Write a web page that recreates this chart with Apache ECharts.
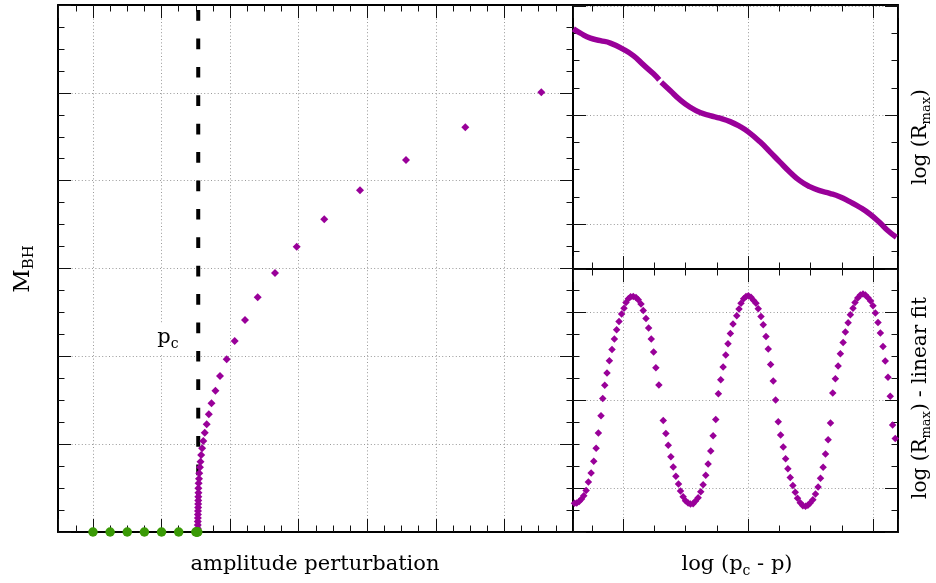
<!DOCTYPE html>
<html><head><meta charset="utf-8">
<script src="https://cdn.jsdelivr.net/npm/echarts@6/dist/echarts.min.js"></script>
<style>html,body{margin:0;padding:0;background:#fff}#c{width:936px;height:583px}</style>
</head><body><div id="c"></div>
<script>
// ---------- data ----------
// left panel: amplitude perturbation vs M_BH
const pcValue = 1.535;
const noBhX = [0, 0.25, 0.5, 0.75, 1.0, 1.25, 1.50, 1.512, 1.522, 1.528];
const noBhM = [0, 0, 0, 0, 0, 0, 0, 0, 0, 0];
const bhX = [6.538, 5.430, 4.565, 3.894, 3.373, 2.971, 2.654, 2.402, 2.217, 2.067,
  1.950, 1.852, 1.786, 1.728, 1.689, 1.658, 1.630, 1.609, 1.592, 1.578,
  1.568, 1.560, 1.550, 1.546, 1.541, 1.537, 1.538, 1.536, 1.535, 1.534,
  1.533, 1.532, 1.531, 1.530, 1.529, 1.528, 1.528, 1.527];
const bhM = [5.006, 4.608, 4.235, 3.890, 3.560, 3.248, 2.949, 2.672, 2.414, 2.175,
  1.966, 1.776, 1.609, 1.465, 1.340, 1.226, 1.129, 1.036, 0.953, 0.877,
  0.800, 0.737, 0.668, 0.607, 0.554, 0.498, 0.447, 0.40, 0.36, 0.32,
  0.28, 0.24, 0.20, 0.16, 0.12, 0.08, 0.04, 0.0];

// right-top: log(pc-p) vs log(Rmax)  (null = small gap in the curve)
const logDpX = [-0.397, -0.341, -0.261, -0.181, -0.101, 0.0, 0.085, 0.164, 0.244, 0.290,
  0.299, 0.306, 0.377, 0.457, 0.537, 0.617, 0.697, 0.777, 0.857, 0.937,
  1.002, 1.094, 1.174, 1.254, 1.334, 1.414, 1.494, 1.574, 1.654, 1.734,
  1.814, 1.894, 1.974, 2.054, 2.120, 2.187];
const logRmax = [1.791, 1.752, 1.706, 1.684, 1.661, 1.606, 1.544, 1.461, 1.379, 1.324,
  null, 1.302, 1.226, 1.140, 1.073, 1.024, 0.996, 0.972, 0.941, 0.895,
  0.847, 0.758, 0.666, 0.572, 0.480, 0.400, 0.345, 0.308, 0.284, 0.253,
  0.207, 0.156, 0.094, 0.015, -0.059, -0.119];

// right-bottom: residual log(Rmax) - linear fit
const residX = [-0.388, -0.370, -0.351, -0.332, -0.314, -0.295, -0.277, -0.255, -0.234, -0.215,
  -0.197, -0.176, -0.162, -0.146, -0.128, -0.109, -0.088, -0.069, -0.051, -0.032,
  -0.011, 0.008, 0.024, 0.043, 0.061, 0.082, 0.104, 0.122, 0.144, 0.162,
  0.184, 0.205, 0.226, 0.245, 0.263, 0.287, 0.322, 0.343, 0.362, 0.383,
  0.402, 0.423, 0.444, 0.460, 0.481, 0.500, 0.521, 0.540, 0.561, 0.580,
  0.601, 0.622, 0.641, 0.662, 0.681, 0.702, 0.721, 0.742, 0.763, 0.782,
  0.801, 0.822, 0.840, 0.859, 0.880, 0.910, 0.928, 0.944, 0.965, 0.984,
  1.003, 1.024, 1.045, 1.064, 1.082, 1.104, 1.122, 1.144, 1.162, 1.181,
  1.202, 1.221, 1.242, 1.261, 1.282, 1.301, 1.319, 1.338, 1.359, 1.378,
  1.396, 1.418, 1.439, 1.460, 1.479, 1.497, 1.519, 1.540, 1.561, 1.580,
  1.601, 1.620, 1.641, 1.660, 1.678, 1.699, 1.721, 1.739, 1.761, 1.779,
  1.801, 1.819, 1.840, 1.856, 1.878, 1.899, 1.920, 1.939, 1.960, 1.981,
  2.000, 2.019, 2.040, 2.059, 2.080, 2.098, 2.120, 2.138, 2.157, 2.178];
const residY = [-0.174, -0.170, -0.152, -0.125, -0.087, -0.027, 0.068, 0.170, 0.303, 0.451,
  0.625, 0.822, 1.019, 1.167, 1.307, 1.447, 1.576, 1.693, 1.799, 1.894,
  1.977, 2.045, 2.110, 2.152, 2.174, 2.178, 2.167, 2.140, 2.091, 2.019,
  1.928, 1.818, 1.693, 1.545, 1.367, 1.170, 0.769, 0.621, 0.485, 0.356,
  0.239, 0.133, 0.045, -0.034, -0.098, -0.144, -0.170, -0.182, -0.178, -0.148,
  -0.110, -0.042, 0.038, 0.144, 0.273, 0.420, 0.595, 0.780, 1.072, 1.231,
  1.375, 1.511, 1.640, 1.758, 1.864, 1.958, 2.034, 2.102, 2.152, 2.178,
  2.186, 2.170, 2.133, 2.102, 2.038, 1.951, 1.856, 1.723, 1.580, 1.405,
  1.216, 1.000, 0.754, 0.602, 0.466, 0.333, 0.220, 0.121, 0.030, -0.049,
  -0.117, -0.167, -0.201, -0.208, -0.197, -0.170, -0.133, -0.068, 0.011, 0.110,
  0.235, 0.386, 0.549, 0.739, 1.080, 1.242, 1.386, 1.527, 1.655, 1.773,
  1.879, 1.970, 2.045, 2.110, 2.159, 2.193, 2.205, 2.193, 2.163, 2.125,
  2.072, 1.989, 1.883, 1.761, 1.610, 1.443, 1.258, 1.042, 0.716, 0.564];

// ---------- styling ----------
const FONT = 'DejaVu Serif';
const MAG = '#990099', GREEN = '#3a9a06';
const zip = (a, b) => a.map((v, i) => [v, b[i]]);

function axis(grid, pos, min, max, main) {
  return {
    type: 'value', gridIndex: grid, position: pos, min: min, max: max,
    minInterval: 1, maxInterval: 1,
    axisLine: { show: true, onZero: false, lineStyle: { color: '#000', width: 2 } },
    axisTick: { show: true, inside: true, length: 13, lineStyle: { color: '#111', width: 1 } },
    minorTick: { show: true, splitNumber: 4, length: 6.5, lineStyle: { color: '#111', width: 1 } },
    axisLabel: { show: false },
    splitLine: { show: main, lineStyle: { color: '#999', width: 1, type: [1, 2.4] } },
    minorSplitLine: { show: false }
  };
}

function rich(size, subSize, pad) {
  return {
    n: { fontFamily: FONT, fontSize: size, color: '#000' },
    s: { fontFamily: FONT, fontSize: subSize, color: '#000', padding: [pad, 0, 0, 0] }
  };
}
function label(x, y, text, rot, size, subSize, pad, extraStyle) {
  return {
    type: 'text', x: x, y: y, rotation: rot, z: 10,
    style: Object.assign({ text: text, align: 'center', verticalAlign: 'middle',
      font: size + 'px ' + FONT, fill: '#000', rich: rich(size, subSize, pad) }, extraStyle || {})
  };
}

const chart = echarts.init(document.getElementById('c'), null, { renderer: 'canvas' });
chart.setOption({
  animation: false,
  backgroundColor: '#fff',
  grid: [
    { left: 58, top: 5, width: 515, height: 527 },
    { left: 573, top: 5, width: 325, height: 264 },
    { left: 573, top: 269, width: 325, height: 263 }
  ],
  xAxis: [
    axis(0, 'bottom', -0.51, 7, true),
    axis(0, 'top', -0.51, 7, false),
    axis(1, 'bottom', -0.40, 2.2, true),
    axis(1, 'top', -0.40, 2.2, false),
    axis(2, 'bottom', -0.40, 2.2, true),
    axis(2, 'top', -0.40, 2.2, false)
  ],
  yAxis: [
    axis(0, 'left', 0, 6, true),
    axis(0, 'right', 0, 6, false),
    axis(1, 'left', -0.41, 2.01, true),
    axis(1, 'right', -0.41, 2.01, false),
    axis(2, 'left', -0.5, 2.49, true),
    axis(2, 'right', -0.5, 2.49, false)
  ],
  series: [
    { type: 'line', xAxisIndex: 0, yAxisIndex: 0, z: 2, symbol: 'none', silent: true,
      data: [[pcValue, 0], [pcValue, 6]],
      lineStyle: { color: '#000', width: 4, type: [10.7, 17.7], cap: 'butt' } },
    { type: 'scatter', xAxisIndex: 0, yAxisIndex: 0, z: 4, symbol: 'circle', symbolSize: 9.5,
      itemStyle: { color: GREEN, opacity: 1 }, data: zip(noBhX, noBhM), clip: false },
    { type: 'scatter', xAxisIndex: 0, yAxisIndex: 0, z: 3, symbol: 'diamond', symbolSize: 8,
      itemStyle: { color: MAG, opacity: 1 }, data: zip(bhX, bhM) },
    { type: 'line', xAxisIndex: 2, yAxisIndex: 2, symbol: 'none', smooth: 0.5,
      connectNulls: false, data: zip(logDpX, logRmax),
      lineStyle: { color: MAG, width: 5.5, cap: 'butt', opacity: 1 } },
    { type: 'scatter', xAxisIndex: 4, yAxisIndex: 4, symbol: 'diamond', symbolSize: 7.5,
      itemStyle: { color: MAG, opacity: 1 }, data: zip(residX, residY), clip: false }
  ],
  graphic: [
    label(168, 338, '{n|p}{s|c}', 0, 21, 14, 12, { backgroundColor: '#fff', padding: [2, 9, 2, 9] }),
    label(315, 565, '{n|amplitude perturbation}', 0, 21, 14, 12),
    label(737, 565, '{n|log (p}{s|c}{n| - p)}', 0, 21, 14, 12),
    label(23, 269, '{n|M}{s|BH}', Math.PI / 2, 23, 15, 13),
    label(921, 137, '{n|log (R}{s|max}{n|)}', Math.PI / 2, 20, 13, 12),
    label(921, 398, '{n|log (R}{s|max}{n|) - linear fit}', Math.PI / 2, 20, 13, 12)
  ]
});
</script></body></html>
